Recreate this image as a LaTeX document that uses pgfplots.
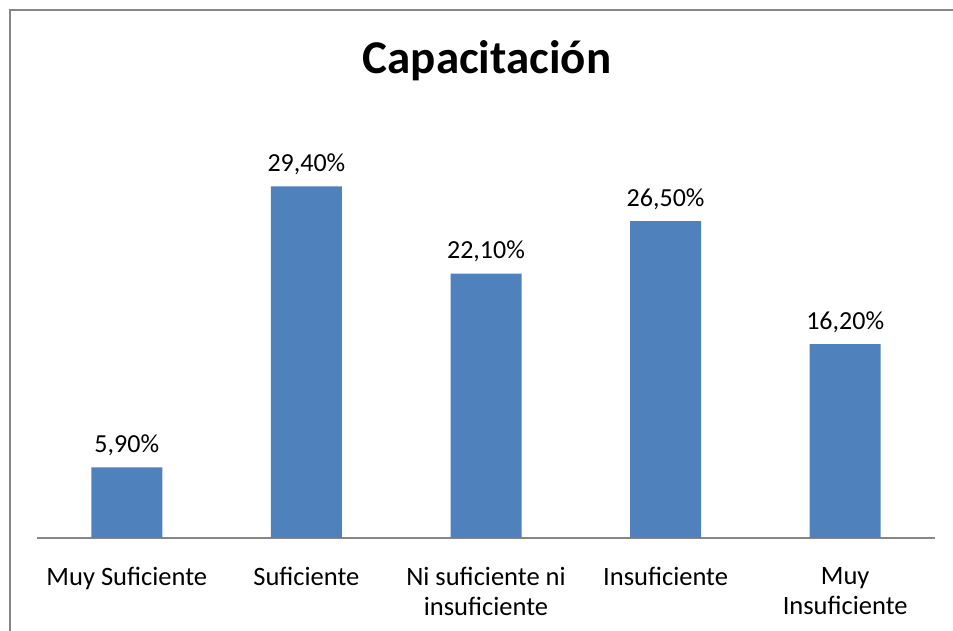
\documentclass[border=0pt]{standalone}
\usepackage{fontspec}
\setmainfont{Carlito}
\usepackage{pgfplots}
\pgfplotsset{compat=1.18}
\definecolor{barblue}{RGB}{79,129,189}
\definecolor{framegray}{RGB}{134,134,134}
\begin{document}
\begin{tikzpicture}[x=1pt,y=1pt]
\useasboundingbox (0,0) rectangle (953,631);
\draw[framegray, line width=2pt] (10,0) -- (10,621) -- (953,621);
\node[font=\bfseries\fontsize{47}{51}\selectfont] at (487,570) {Capacitación};
\begin{axis}[
  at={(37pt,93pt)}, anchor=south west, scale only axis,
  width=898pt, height=418.6pt,
  xmin=-0.5, xmax=4.5, ymin=0, ymax=35,
  axis y line=none, axis x line*=bottom,
  x axis line style={framegray, line width=1.5pt},
  ybar, bar width=71pt,
  xtick={0,1,2,3,4},
  xticklabels={Muy Suficiente, Suficiente, {Ni suficiente ni\\insuficiente}, Insuficiente, {Muy\\Insuficiente}},
  major tick length=0pt,
  xticklabel style={align=center, font=\fontsize{26.5}{29.5}\selectfont, anchor=north, yshift=-26pt},
  nodes near coords, point meta=explicit symbolic,
  nodes near coords style={font=\fontsize{26}{30}\selectfont, anchor=base, yshift=15pt, text=black},
  clip=false,
]
\addplot[fill=barblue, draw=none] coordinates {
  (0,5.9) [5,90\%]
  (1,29.4) [29,40\%]
  (2,22.1) [22,10\%]
  (3,26.5) [26,50\%]
  (4,16.2) [16,20\%]
};
\end{axis}
\end{tikzpicture}
\end{document}
